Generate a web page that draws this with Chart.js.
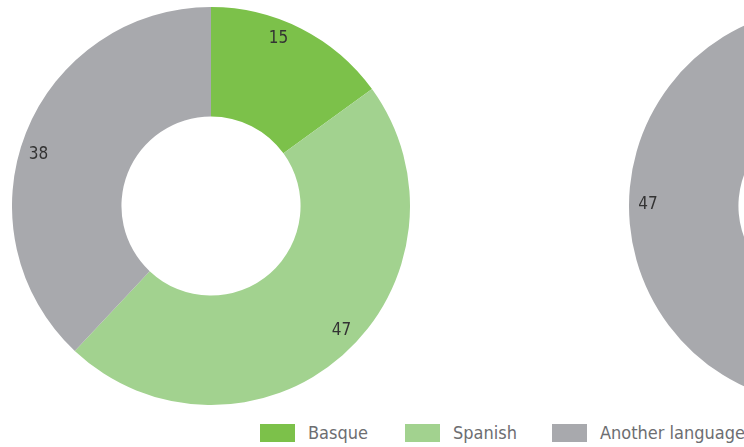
<!DOCTYPE html>
<html>
<head>
<meta charset="utf-8">
<script src="https://cdn.jsdelivr.net/npm/chart.js@4.4.1/dist/chart.umd.min.js"></script>
<style>
  html, body { margin: 0; padding: 0; background: #fff; }
  body { width: 744px; height: 447px; overflow: hidden; position: relative; }
  .pie { position: absolute; top: 7px; width: 398px; height: 398px; }
  #legend { position: absolute; top: 424px; left: 260px; white-space: nowrap;
            font-family: "DejaVu Sans Condensed", "DejaVu Sans", sans-serif; font-size: 18px; color: #6d6e71; }
  .item { display: inline-block; }
  .box { display: inline-block; width: 35px; height: 18px; vertical-align: top; margin-right: 13px; }
  .txt { display: inline-block; vertical-align: top; line-height: 18px; }
</style>
</head>
<body>
<div class="pie" style="left:12px"><canvas id="pie1"></canvas></div>
<div class="pie" style="left:629px"><canvas id="pie2"></canvas></div>
<div id="legend"></div>
<script>
// categories and values
const categories = ['Basque', 'Spanish', 'Another language'];
const valuesLeft = [15, 47, 38];
const valuesRight = [20, 33, 47];
const colors = ['#7cc14a', '#a2d28f', '#a8a9ad'];

// draws the value of each slice near the outer edge
const sliceLabels = {
    id: 'sliceLabels',
    afterDatasetsDraw(chart) {
        const ctx = chart.ctx;
        const meta = chart.getDatasetMeta(0);
        const shift = -5 * Math.PI / 180; // labels sit a little before the slice middle
        ctx.save();
        ctx.font = '17px "DejaVu Sans Condensed", "DejaVu Sans", sans-serif';
        ctx.fillStyle = '#333333';
        ctx.textAlign = 'center';
        ctx.textBaseline = 'middle';
        meta.data.forEach((arc, i) => {
            const p = arc.getProps(['x', 'y', 'startAngle', 'endAngle', 'outerRadius'], true);
            const mid = (p.startAngle + p.endAngle) / 2 + shift;
            const r = p.outerRadius * 0.905;
            ctx.fillText(String(chart.data.datasets[0].data[i]), p.x + Math.cos(mid) * r, p.y + Math.sin(mid) * r);
        });
        ctx.restore();
    }
};

function makePie(id, values) {
    return new Chart(document.getElementById(id), {
        type: 'doughnut',
        data: {
            labels: categories,
            datasets: [{ data: values, backgroundColor: colors, borderWidth: 0 }]
        },
        options: {
            responsive: true,
            maintainAspectRatio: false,
            animation: false,
            cutout: '45%',
            layout: { padding: 0 },
            plugins: { legend: { display: false }, tooltip: { enabled: false } }
        },
        plugins: [sliceLabels]
    });
}

makePie('pie1', valuesLeft);
makePie('pie2', valuesRight);

// html legend
const legend = document.getElementById('legend');
const gaps = [37, 35, 0];
categories.forEach((name, i) => {
    const item = document.createElement('span');
    item.className = 'item';
    item.style.marginRight = gaps[i] + 'px';
    item.innerHTML = '<span class="box" style="background:' + colors[i] + '"></span><span class="txt">' + name + '</span>';
    legend.appendChild(item);
});
</script>
</body>
</html>
